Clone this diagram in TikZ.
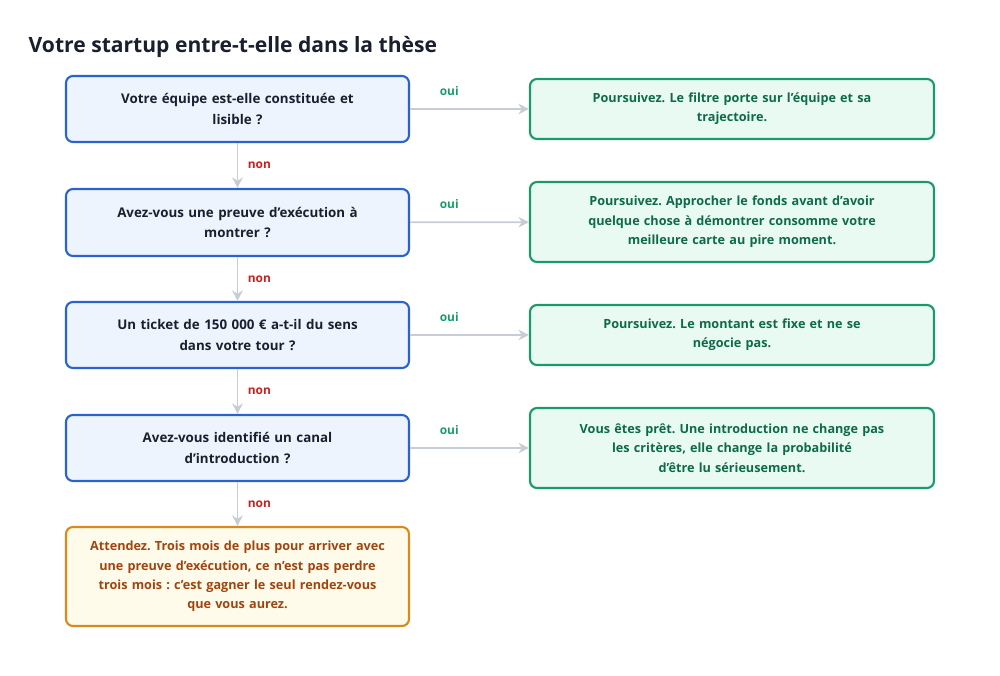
\documentclass[tikz,border=0pt]{standalone}
\usepackage{fontspec}
\setmainfont{Open Sans}
\frenchspacing
\usetikzlibrary{arrows.meta}
\newcommand{\ap}{\char"27\relax}
\definecolor{qblue}{HTML}{2A62D0}
\definecolor{qbluefill}{HTML}{EEF4FE}
\definecolor{agreen}{HTML}{1A9A6A}
\definecolor{agreenfill}{HTML}{E9FAF2}
\definecolor{agreentext}{HTML}{0D6B4A}
\definecolor{worange}{HTML}{D98A1C}
\definecolor{worangefill}{HTML}{FFFBEA}
\definecolor{worangetext}{HTML}{A0450F}
\definecolor{linkgray}{HTML}{C8CCD4}
\definecolor{nonred}{HTML}{C72020}
\definecolor{titleink}{HTML}{1A1F2E}
\tikzset{
  question/.style={draw=qblue, fill=qbluefill, line width=1.2pt, rounded corners=4pt,
    minimum width=6.86cm, minimum height=1.32cm, text width=6.4cm, align=center,
    font=\fontsize{7.6}{11.5}\selectfont\bfseries, text=titleink},
  answer/.style={draw=agreen, fill=agreenfill, line width=1.2pt, rounded corners=4pt,
    minimum width=8.08cm, text width=7.6cm, align=center,
    font=\fontsize{7.2}{11}\selectfont\bfseries, text=agreentext},
  waitbox/.style={draw=worange, fill=worangefill, line width=1.2pt, rounded corners=4pt,
    minimum width=6.86cm, minimum height=1.98cm, text width=6.6cm, align=center,
    font=\fontsize{7.2}{11}\selectfont\bfseries, text=worangetext},
  link/.style={draw=linkgray, line width=1pt, -{Stealth[length=6pt,width=6pt]}},
  nolabel/.style={font=\fontsize{6.8}{9}\selectfont\bfseries, text=nonred},
  yeslabel/.style={font=\fontsize{6.8}{9}\selectfont\bfseries, text=agreen}
}
\begin{document}
\begin{tikzpicture}
  \useasboundingbox (0,0) rectangle (20,13.5);
  \node[anchor=west, font=\fontsize{12}{15}\selectfont\bfseries, text=titleink] (title) at (0.45,12.56) {Votre startup entre-t-elle dans la thèse};

  \node[question] (q1) at (4.75,11.32) {Votre équipe est-elle constituée et\\lisible ?};
  \node[question, minimum height=1.34cm] (q2) at (4.75,9.05) {Avez-vous une preuve d\ap exécution à\\montrer ?};
  \node[question] (q3) at (4.75,6.8) {Un ticket de 150 000 € a-t-il du sens\\dans votre tour ?};
  \node[question] (q4) at (4.75,4.54) {Avez-vous identifié un canal\\d\ap introduction ?};
  \node[waitbox] (wait) at (4.75,1.97) {Attendez. Trois mois de plus pour arriver avec\\une preuve d\ap exécution, ce n\ap est pas perdre\\trois mois : c\ap est gagner le seul rendez-vous\\que vous aurez.};

  \node[answer, minimum height=1.2cm] (a1) at (14.64,11.32) {Poursuivez. Le filtre porte sur l\ap équipe et sa\\trajectoire.};
  \node[answer, minimum height=1.6cm] (a2) at (14.64,9.06) {Poursuivez. Approcher le fonds avant d\ap avoir\\quelque chose à démontrer consomme votre\\meilleure carte au pire moment.};
  \node[answer, minimum height=1.2cm] (a3) at (14.64,6.8) {Poursuivez. Le montant est fixe et ne se\\négocie pas.};
  \node[answer, minimum height=1.6cm] (a4) at (14.64,4.54) {Vous êtes prêt. Une introduction ne change pas\\les critères, elle change la probabilité\\d\ap être lu sérieusement.};

  \draw[link] (q1) -- node[nolabel, right=2pt] {non} (q2);
  \draw[link] (q2) -- node[nolabel, right=2pt] {non} (q3);
  \draw[link] (q3) -- node[nolabel, right=2pt] {non} (q4);
  \draw[link] (q4) -- node[nolabel, right=2pt] {non} (wait);

  \draw[link] (q1) -- node[yeslabel, above=4pt, pos=0.33] {oui} (a1);
  \draw[link] (q2) -- node[yeslabel, above=4pt, pos=0.33] {oui} (a2);
  \draw[link] (q3) -- node[yeslabel, above=4pt, pos=0.33] {oui} (a3);
  \draw[link] (q4) -- node[yeslabel, above=4pt, pos=0.33] {oui} (a4);
\end{tikzpicture}
\end{document}
